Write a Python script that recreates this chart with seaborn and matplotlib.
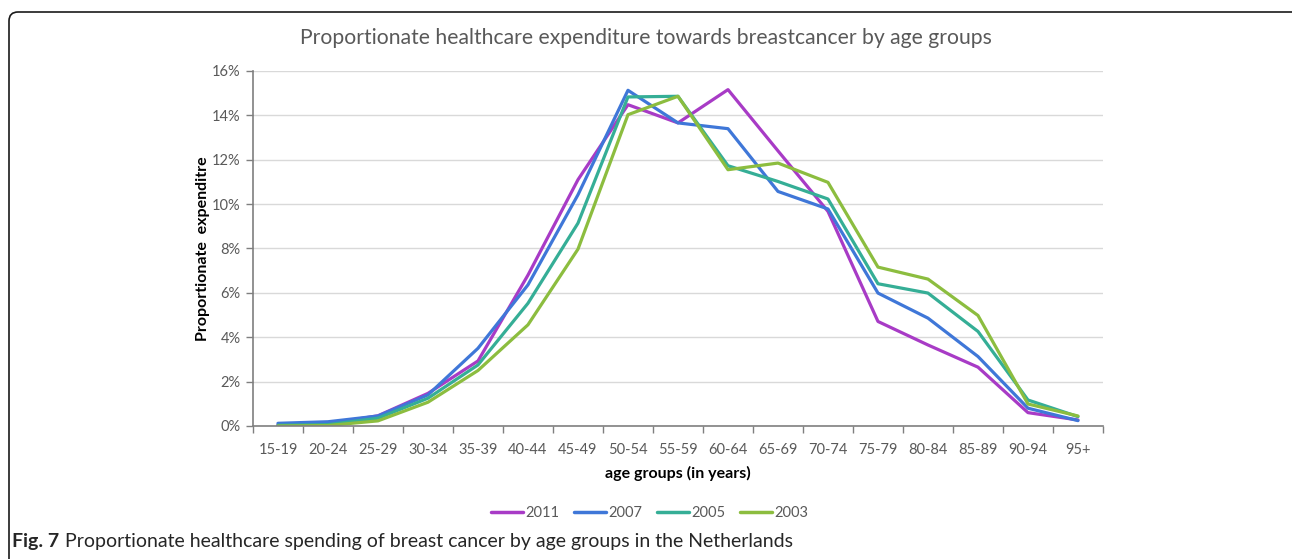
import numpy as np
import pandas as pd
import matplotlib
matplotlib.use("Agg")
import matplotlib.pyplot as plt
from matplotlib.patches import FancyBboxPatch
from matplotlib.ticker import FixedLocator, FuncFormatter
from matplotlib.lines import Line2D
import seaborn as sns

# ── Data ──────────────────────────────────────────────────────
age_groups = ["15-19", "20-24", "25-29", "30-34", "35-39", "40-44", "45-49",
              "50-54", "55-59", "60-64", "65-69", "70-74", "75-79", "80-84",
              "85-89", "90-94", "95+"]
years = ["2011", "2007", "2005", "2003"]
share_2011 = [0.05, 0.10, 0.46, 1.47, 2.93, 6.80, 11.1, 14.48, 13.66, 15.16,
              12.40, 9.67, 4.71, 3.65, 2.65, 0.60, 0.27]
share_2007 = [0.12, 0.19, 0.45, 1.40, 3.50, 6.36, 10.42, 15.13, 13.66, 13.40,
              10.57, 9.78, 5.99, 4.86, 3.13, 0.80, 0.24]
share_2005 = [0.03, 0.06, 0.35, 1.25, 2.75, 5.53, 9.14, 14.83, 14.86, 11.73,
              11.02, 10.23, 6.41, 5.99, 4.26, 1.17, 0.42]
share_2003 = [0.00, 0.02, 0.23, 1.07, 2.50, 4.56, 7.97, 14.03, 14.86, 11.55,
              11.85, 10.98, 7.16, 6.62, 4.98, 0.99, 0.45]
colors = ["#A83BC6", "#3F77D8", "#35AE96", "#8CBD3F"]

series = {"2011": share_2011, "2007": share_2007,
          "2005": share_2005, "2003": share_2003}
df = pd.DataFrame([{"age": a, "year": y, "share": v}
                   for y in years for a, v in zip(age_groups, series[y])])
df["pos"] = df["age"].map({a: i for i, a in enumerate(age_groups)})

# ── Figure ────────────────────────────────────────────────────
sns.set_theme(style="white")
plt.rcParams["font.family"] = ["Lato", "DejaVu Sans"]

fig = plt.figure(figsize=(12.92, 5.59), dpi=100)
ax = fig.add_axes([0.1958, 0.238, 0.8537 - 0.1958, 0.873 - 0.238])

sns.lineplot(data=df, x="pos", y="share", hue="year", hue_order=years,
             palette=colors, linewidth=2.3, ax=ax, legend=False)

ax.set_xlim(-0.5, len(age_groups) - 0.5)
ax.set_ylim(0, 16)
ax.set_xticks(range(len(age_groups)))
ax.set_xticklabels(age_groups)
ax.xaxis.set_minor_locator(FixedLocator(np.arange(-0.5, len(age_groups), 1)))
ax.tick_params(axis="x", which="major", length=0, pad=12, labelsize=10.5,
               labelcolor="#595959")
ax.tick_params(axis="x", which="minor", length=5, width=1, color="#7F7F7F",
               direction="out", bottom=True)
ax.set_yticks(range(0, 17, 2))
ax.yaxis.set_major_formatter(FuncFormatter(lambda v, _: f"{v:.0f}%"))
ax.tick_params(axis="y", length=5, width=1, color="#7F7F7F", direction="out",
               left=True, pad=4, labelsize=10.5, labelcolor="#595959")

ax.grid(axis="y", color="#D9D9D9", linewidth=1)
ax.set_axisbelow(True)
for s in ["top", "right"]:
    ax.spines[s].set_visible(False)
for s in ["left", "bottom"]:
    ax.spines[s].set_color("#7F7F7F")
    ax.spines[s].set_linewidth(1.2)

ax.set_xlabel("age groups (in years)", fontsize=11.5, fontweight="bold",
              color="black", labelpad=7)
ax.set_ylabel("Proportionate  expenditre", fontsize=11.5, fontweight="bold",
              color="black", labelpad=1)

fig.text(0.5, 0.932, "Proportionate healthcare expenditure towards breastcancer by age groups",
         ha="center", va="center", fontsize=15.2, color="#595959")

handles = [Line2D([0], [0], color=c, lw=2.5) for c in colors]
fig.legend(handles, years, loc="center", bbox_to_anchor=(0.503, 0.082), ncol=4,
           frameon=False, fontsize=10.5, handlelength=2.2, handletextpad=0.15,
           columnspacing=1.0, labelcolor="#595959")

cap_y = 1 - 541 / 559
fig_lbl = fig.text(12 / 1292, cap_y, "Fig. 7", ha="left", va="center",
                   fontsize=14, fontweight="bold")
fig.canvas.draw()
bb = fig_lbl.get_window_extent(renderer=fig.canvas.get_renderer())
fig.text((bb.x1 + 6) / 1292, cap_y,
         "Proportionate healthcare spending of breast cancer by age groups in the Netherlands",
         ha="left", va="center", fontsize=14)

border = FancyBboxPatch((0.09, -0.3), 12.81 + 0.3, 5.47 + 0.3,
                        boxstyle="round,pad=0,rounding_size=0.09",
                        transform=fig.dpi_scale_trans, fill=False,
                        edgecolor="#1a1a1a", linewidth=1.2, clip_on=False)
fig.patches.append(border)

fig.savefig("out.png", dpi=100)
